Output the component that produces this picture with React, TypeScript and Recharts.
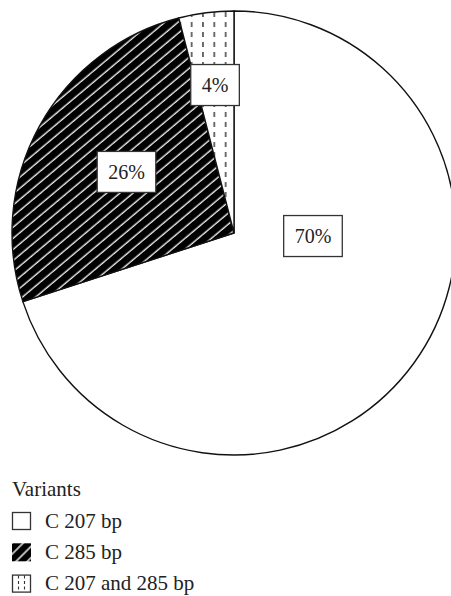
import { PieChart, Pie, Cell, Legend } from "recharts";

// chart data
const variants = ["C 207 bp", "C 285 bp", "C 207 and 285 bp"];
const shares = [70, 26, 4];
const legendTitle = "Variants";

const fills = ["#ffffff", "url(#hatch)", "url(#dashes)"];
// label placement (radius fraction of outer radius, angle in degrees)
const labelRadius = [0.356, 0.557, 0.672];
const labelAngle = [-2.2, 150.4, 97.3];

const FONT = "Liberation Serif";
const RAD = Math.PI / 180;
const labelStyle = { fontFamily: FONT, fontSize: 20 };
const legendStyle = { fontFamily: FONT, fontSize: 21 };

const data = variants.map((name, i) => ({ name, value: shares[i] }));

const renderLabel = (props: any) => {
  const { cx, cy, outerRadius, index, value } = props;
  const r = outerRadius * labelRadius[index];
  const a = labelAngle[index] * RAD;
  const x = cx + r * Math.cos(a);
  const y = cy - r * Math.sin(a);
  const text = `${value}%`;
  const w = (text.length - 1) * 10 + 16.6 + 22;
  const h = 41;
  return (
    <g>
      <rect x={x - w / 2} y={y - h / 2} width={w} height={h} fill="#fff" stroke="#333" strokeWidth={1.3} />
      <text x={x} y={y + 7} textAnchor="middle" style={labelStyle} fill="#222">
        {text}
      </text>
    </g>
  );
};

const LegendBox = () => (
  <svg width={300} height={126} style={{ display: "block" }}>
    <defs>
      <pattern id="hatchIcon" patternUnits="userSpaceOnUse" width={8} height={8} patternTransform="rotate(45)">
        <rect width={8} height={8} fill="#000" />
        <line x1={4} y1={0} x2={4} y2={8} stroke="#fff" strokeWidth={1.4} />
      </pattern>
    </defs>
    <text x={12} y={26} style={legendStyle} fill="#222">
      {legendTitle}
    </text>
    {variants.map((name, i) => {
      const top = 42 + i * 31.3;
      return (
        <g key={name}>
          {i === 0 && <rect x={12.5} y={top + 0.5} width={18} height={17} fill="#fff" stroke="#333" strokeWidth={1.3} />}
          {i === 1 && <rect x={12} y={top} width={19} height={18} fill="url(#hatchIcon)" />}
          {i === 2 && (
            <g>
              <rect x={12.5} y={top + 0.5} width={18} height={17} fill="#fff" stroke="#333" strokeWidth={1.3} />
              <line x1={18.5} y1={top + 1} x2={18.5} y2={top + 17} stroke="#333" strokeWidth={1.1} strokeDasharray="3 2.5" />
              <line x1={24.5} y1={top + 1} x2={24.5} y2={top + 17} stroke="#333" strokeWidth={1.1} strokeDasharray="3 2.5" />
            </g>
          )}
          <text x={45} y={top + 15.5} style={legendStyle} fill="#222">
            {name}
          </text>
        </g>
      );
    })}
  </svg>
);

export default function App() {
  return (
    <div style={{ position: "absolute", left: 0, top: 0, width: 451, height: 596, background: "#fff" }}>
      <svg width={0} height={0} style={{ position: "absolute" }}>
        <defs>
          <pattern id="hatch" patternUnits="userSpaceOnUse" width={8.5} height={8.5} patternTransform="rotate(50)">
            <rect width={8.5} height={8.5} fill="#000" />
            <line x1={4} y1={0} x2={4} y2={8.5} stroke="#fff" strokeWidth={1.3} />
          </pattern>
          <pattern id="dashes" patternUnits="userSpaceOnUse" x={186} y={2} width={11.33} height={10}>
            <rect width={11.33} height={10} fill="#fff" />
            <line x1={5.65} y1={0} x2={5.65} y2={5} stroke="#222" strokeWidth={1.3} />
          </pattern>
        </defs>
      </svg>
      <PieChart width={451} height={596} margin={{ top: 0, right: 0, bottom: 0, left: 0 }}>
        <Pie
          data={data}
          dataKey="value"
          nameKey="name"
          cx={234}
          cy={233}
          outerRadius={222}
          startAngle={90}
          endAngle={-270}
          stroke="#111"
          strokeWidth={1.4}
          label={renderLabel}
          labelLine={false}
          isAnimationActive={false}
        >
          {data.map((d, i) => (
            <Cell key={d.name} fill={fills[i]} />
          ))}
        </Pie>
        <Legend
          content={() => <LegendBox />}
          wrapperStyle={{ position: "absolute", left: 0, top: 470, width: 300, height: 126 }}
        />
      </PieChart>
    </div>
  );
}
